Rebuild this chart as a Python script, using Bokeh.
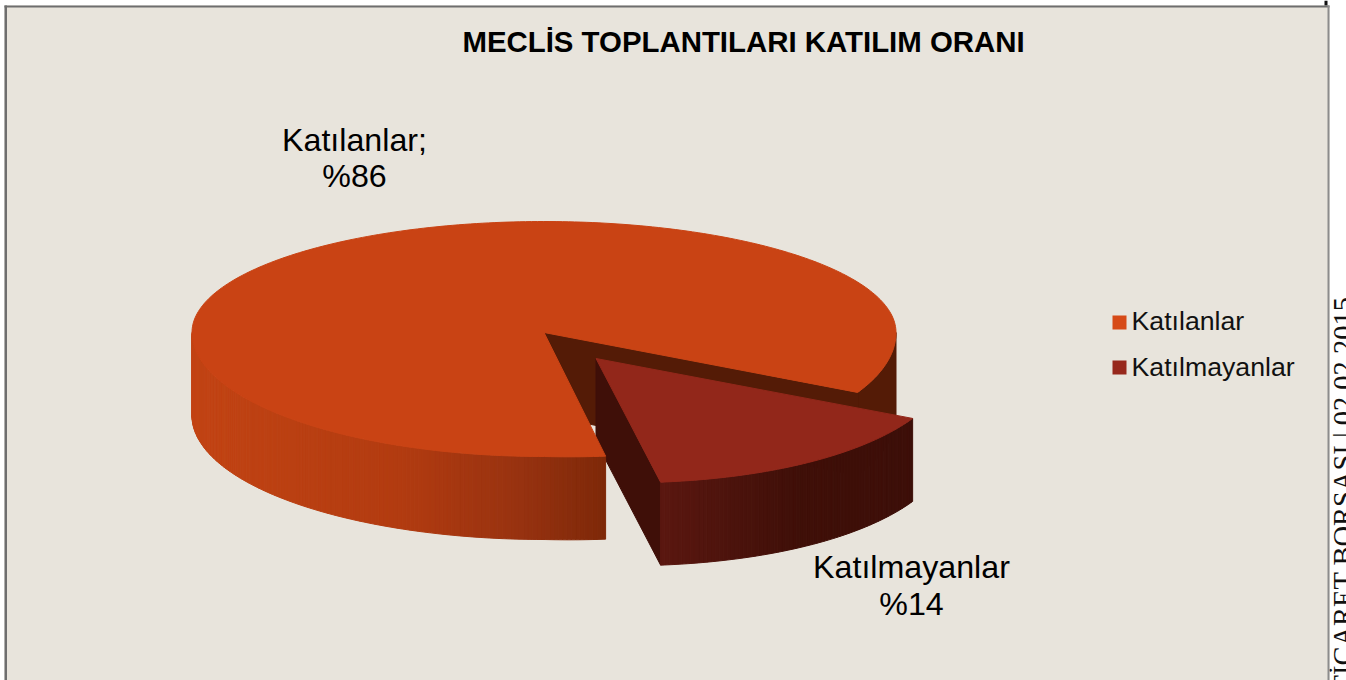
import numpy as np
from bokeh.plotting import figure
from bokeh.models import Range1d
from bokeh.core.properties import value
from bokeh.embed import file_html
from bokeh.resources import INLINE

# data
categories = ["Katılanlar", "Katılmayanlar"]
shares = [86, 14]
title_text = "MECLİS TOPLANTILARI KATILIM ORANI"
side_text = "TİCARET BORSASI | 02.02.2015"

# style
W, H = 1346, 680
BG = "#e8e4dc"
TOP = ["#c94314", "#92271a"]
LEG = ["#d64a17", "#97281c"]
WALL = "#541b06"
FACE = "#3f0f08"
FONT = "Liberation Sans"

# layout of the pie
CX, CY = 543.5, 332
RX, RY_BACK, RY_FRONT = 352, 111, 124
TILT = 9            # lower-right rim sits a little lower in the perspective
DEPTH = 83
EX_APEX_X, EX_RIM_X, EX_Y = 52, 55, 26
SLICE_START = 27.0  # degrees, clockwise on screen, from the right
STRETCH = 1.05      # perspective widens a slice facing the viewer


def px(a, ox=0):
    return CX + ox + RX * np.cos(np.radians(a))


def py(a, oy=0):
    s = np.sin(np.radians(a))
    c = np.cos(np.radians(a))
    if s >= 0:
        return CY + oy + RY_FRONT * s + TILT * max(c, 0) * s
    return CY + oy + RY_BACK * s


def rim(a0, a1, ox=0, oy=0, step=1.0):
    n = max(2, int(abs(a1 - a0) / step) + 1)
    aa = np.linspace(a0, a1, n)
    return [px(a, ox) for a in aa], [py(a, oy) for a in aa]


def ramp(x, xs, cols):
    rgb = np.array([[int(c[i:i + 2], 16) for i in (1, 3, 5)] for c in cols], float)
    v = [np.interp(x, xs, rgb[:, k]) for k in range(3)]
    return "#%02x%02x%02x" % tuple(int(round(t)) for t in v)


def side_strips(a0, a1, ox, oy, xs, cols, step=0.7):
    n = max(1, int(abs(a1 - a0) / step))
    edges = np.linspace(a0, a1, n + 1)
    out_x, out_y, out_c = [], [], []
    for a, b in zip(edges[:-1], edges[1:]):
        x0, x1 = px(a, ox), px(b, ox)
        y0, y1 = py(a, oy), py(b, oy)
        out_x.append([x0, x1, x1, x0])
        out_y.append([y0, y1, y1 + DEPTH, y0 + DEPTH])
        out_c.append(ramp((x0 + x1) / 2, xs, cols))
    return out_x, out_y, out_c


sweep = 360 * shares[1] / sum(shares) * STRETCH
a_s, a_e = SLICE_START, SLICE_START + sweep

p = figure(width=W, height=H, output_backend="svg", toolbar_location=None,
           x_range=Range1d(0, W), y_range=Range1d(H, 0),
           x_axis_type=None, y_axis_type=None, min_border=0,
           background_fill_color="white", border_fill_color="white",
           outline_line_color=None)
p.grid.visible = False

# text on the page behind the chart panel, cut by the panel's edge
p.text([1343], [296], text=[side_text], angle=np.pi / 2,
       text_font=value("Liberation Serif"), text_font_size="28.5px",
       text_align="right", text_baseline="alphabetic", text_color="#111111")
p.quad(left=[1324], right=[1327], top=[0], bottom=[6], fill_color="#111111", line_color=None)

# chart panel and its borders
p.quad(left=[4], right=[1329], top=[5], bottom=[H], fill_color=BG, line_color=None)
p.quad(left=[4], right=[6.5], top=[5], bottom=[H], fill_color="#6e6e6e", line_color=None)
p.quad(left=[4], right=[1329], top=[5], bottom=[7], fill_color="#6e6e6e", line_color=None)
p.quad(left=[1327], right=[1329], top=[5], bottom=[H], fill_color="#8c8c8c", line_color=None)

# big slice: back-right rim and cut wall
x_r, y_r = rim(0, a_s)
x_b = x_r + x_r[::-1]
y_b = y_r + [y + DEPTH for y in y_r[::-1]]
p.patch(x_b, y_b, fill_color=WALL, line_color=WALL, line_width=1)
p.patch([CX, px(a_s), px(a_s), CX],
        [CY, py(a_s), py(a_s) + DEPTH, CY + DEPTH],
        fill_color=WALL, line_color=WALL, line_width=1)

# exploded slice
p.patch([CX + EX_APEX_X, px(a_e, EX_RIM_X), px(a_e, EX_RIM_X), CX + EX_APEX_X],
        [CY + EX_Y, py(a_e, EX_Y), py(a_e, EX_Y) + DEPTH, CY + EX_Y + DEPTH],
        fill_color=FACE, line_color=FACE, line_width=1)
sx, sy, sc = side_strips(a_s, a_e, EX_RIM_X, EX_Y,
                         [662, 730, 800, 913],
                         ["#5a1710", "#4c130c", "#3f0f08", "#3d0f09"])
p.patches(sx, sy, fill_color=sc, line_color=sc, line_width=1)
tx, ty = rim(a_s, a_e, EX_RIM_X, EX_Y)
p.patch([CX + EX_APEX_X] + tx, [CY + EX_Y] + ty, fill_color=TOP[1], line_color=TOP[1], line_width=1)

# big slice: front side and top
bx, by, bc = side_strips(a_e, 180, 0, 0,
                         [191, 400, 520, 607],
                         ["#c24414", "#b23b10", "#973210", "#7d2808"])
p.patches(bx, by, fill_color=bc, line_color=bc, line_width=1)
tx, ty = rim(a_e, a_s + 360, 0, 0)
p.patch([CX] + tx, [CY] + ty, fill_color=TOP[0], line_color=TOP[0], line_width=1)

# title
p.text([743], [40.5], text=[title_text], text_font=value(FONT), text_font_style="bold",
       text_font_size="29.4px", text_align="center", text_baseline="middle", text_color="black")

# data labels
label_x = [354, 354, 911, 911]
label_y = [139.5, 175.5, 566, 603]
labels = [categories[0] + ";", "%" + str(shares[0]), categories[1], "%" + str(shares[1])]
p.text(label_x, label_y, text=labels, text_font=value(FONT), text_font_size="32.2px",
       text_align="center", text_baseline="middle", text_color="black")

# legend
p.quad(left=[1112, 1112], right=[1126, 1126], top=[315, 360], bottom=[329, 374],
       fill_color=LEG, line_color=None)
p.text([1131, 1131], [320, 366], text=categories, text_font=value(FONT), text_font_size="26.7px",
       text_align="left", text_baseline="middle", text_color="#111111")

open("out.html", "w").write(file_html(p, INLINE))
